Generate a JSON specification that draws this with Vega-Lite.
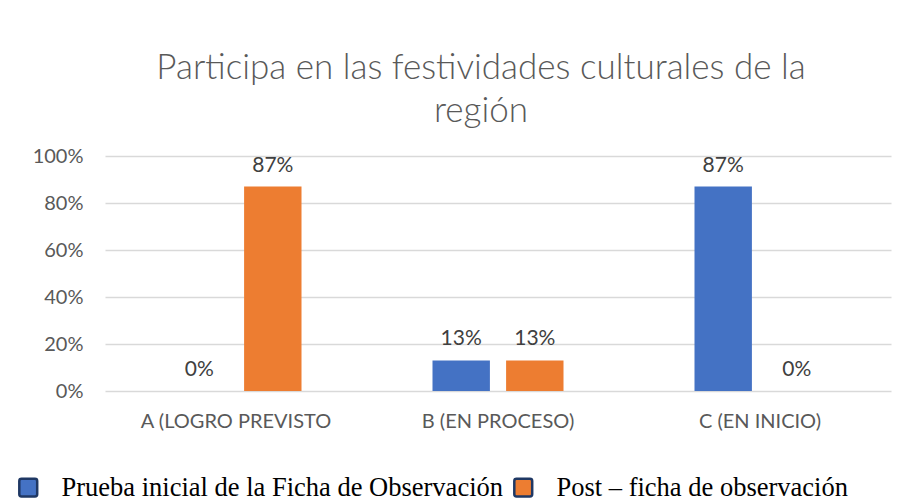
{
  "$schema": "https://vega.github.io/schema/vega-lite/v6.json",
  "width": 786,
  "height": 235,
  "autosize": {"type": "none"},
  "padding": {"left": 105, "top": 156, "right": 14, "bottom": 112},
  "background": "white",
  "config": {
    "font": "Lato",
    "view": {"stroke": null}
  },
  "title": {
    "text": ["Participa en las festividades culturales de la", "región"],
    "font": "Lato",
    "fontSize": 35,
    "fontWeight": 300,
    "color": "#595959",
    "anchor": "middle",
    "dx": -17,
    "offset": 17,
    "lineHeight": 43
  },
  "data": {
    "values": [
      {"categoria": "A (LOGRO PREVISTO", "serie": "Prueba inicial de la Ficha de Observación", "valor": 0},
      {"categoria": "A (LOGRO PREVISTO", "serie": "Post – ficha de observación", "valor": 0.87},
      {"categoria": "B (EN PROCESO)", "serie": "Prueba inicial de la Ficha de Observación", "valor": 0.13},
      {"categoria": "B (EN PROCESO)", "serie": "Post – ficha de observación", "valor": 0.13},
      {"categoria": "C (EN INICIO)", "serie": "Prueba inicial de la Ficha de Observación", "valor": 0.87},
      {"categoria": "C (EN INICIO)", "serie": "Post – ficha de observación", "valor": 0}
    ]
  },
  "encoding": {
    "x": {
      "field": "categoria",
      "type": "nominal",
      "sort": null,
      "title": null,
      "scale": {"paddingInner": 0.5, "paddingOuter": 0.25},
      "axis": {
        "labelAngle": 0,
        "labelFont": "Lato",
        "labelFontSize": 20,
        "labelColor": "#595959",
        "labelPadding": 20,
        "labelLimit": 400,
        "ticks": false,
        "domain": false
      }
    },
    "xOffset": {
      "field": "serie",
      "type": "nominal",
      "sort": ["Prueba inicial de la Ficha de Observación", "Post – ficha de observación"],
      "scale": {"paddingInner": 0.22, "paddingOuter": 0}
    },
    "y": {
      "field": "valor",
      "type": "quantitative",
      "title": null,
      "scale": {"domain": [0, 1]},
      "axis": {
        "values": [0, 0.2, 0.4, 0.6, 0.8, 1],
        "format": ".0%",
        "labelFont": "Lato",
        "labelFontSize": 20,
        "labelColor": "#595959",
        "labelPadding": 22,
        "ticks": false,
        "domain": false,
        "gridColor": "#d9d9d9",
        "gridWidth": 1.5
      }
    }
  },
  "layer": [
    {
      "mark": {"type": "bar"},
      "encoding": {
        "color": {
          "field": "serie",
          "type": "nominal",
          "sort": ["Prueba inicial de la Ficha de Observación", "Post – ficha de observación"],
          "scale": {
            "domain": ["Prueba inicial de la Ficha de Observación", "Post – ficha de observación"],
            "range": ["#4472C4", "#ED7D31"]
          },
          "legend": {
            "title": null,
            "orient": "none",
            "direction": "horizontal",
            "legendX": -90,
            "legendY": 318,
            "labelFont": "Liberation Serif",
            "labelFontSize": 26.5,
            "labelColor": "#000000",
            "symbolType": "M-0.75,-1H0.75Q1,-1,1,-0.75V0.75Q1,1,0.75,1H-0.75Q-1,1,-1,0.75V-0.75Q-1,-1,-0.75,-1Z",
            "symbolSize": 320,
            "symbolStrokeWidth": 2.5,
            "symbolOpacity": 1,
            "columnPadding": 5,
            "labelOffset": 20,
            "labelLimit": 600,
            "encode": {
              "symbols": {
                "update": {
                  "fill": {"condition": {"test": "datum.value === 'Post – ficha de observación'", "value": "#E0A07A"}, "value": "#4472C4"},
                  "stroke": {"condition": {"test": "datum.value === 'Post – ficha de observación'", "value": "#C4723E"}, "value": "#1F3864"}
                }
              }
            }
          }
        }
      }
    },
    {
      "mark": {
        "type": "text",
        "baseline": "bottom",
        "dy": -11,
        "font": "Lato",
        "fontSize": 21,
        "color": "#404040"
      },
      "encoding": {
        "text": {"field": "valor", "type": "quantitative", "format": ".0%"}
      }
    }
  ]
}
